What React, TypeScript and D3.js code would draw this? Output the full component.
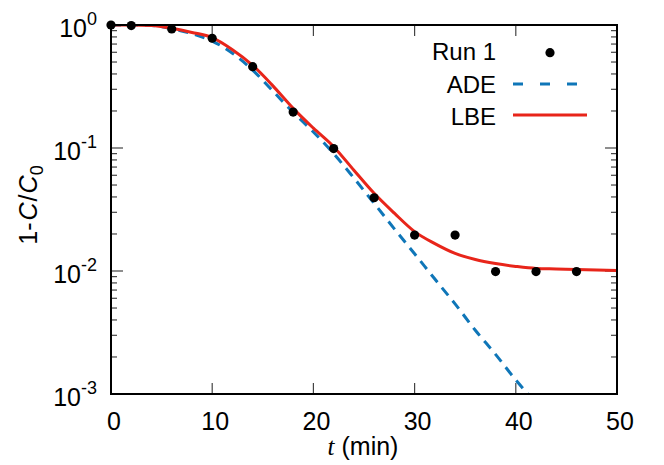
import React from "react";
import * as d3 from "d3";

const runT = [0, 2, 6, 10, 14, 18, 22, 26, 30, 34, 38, 42, 46];
const runV = [1.0, 0.99, 0.928, 0.78, 0.458, 0.196, 0.099, 0.0394, 0.0196, 0.0196, 0.0099, 0.0099, 0.0099];

const adeT = [0, 2, 4, 6, 8, 10, 12, 14, 16, 18, 20, 22, 24, 26, 28, 30, 32, 34, 36, 38, 40, 41.2];
const adeV = [1.0, 1.0, 0.99, 0.93, 0.85, 0.74, 0.59, 0.43, 0.29, 0.195, 0.135, 0.09, 0.057, 0.0355, 0.022, 0.0138, 0.0086, 0.0054, 0.0033, 0.0021, 0.0013, 0.001];

const lbeT = [0, 2, 4, 6, 8, 10, 12, 14, 16, 18, 20, 22, 24, 26, 28, 30, 32, 34, 36, 38, 40, 42, 44, 46, 48, 50];
const lbeV = [1.0, 1.0, 0.99, 0.94, 0.87, 0.79, 0.63, 0.47, 0.32, 0.21, 0.145, 0.1025, 0.066, 0.0428, 0.0295, 0.0209, 0.0167, 0.0139, 0.0124, 0.0115, 0.0109, 0.0105, 0.0104, 0.0103, 0.0102, 0.0101];

const xTicks = [0, 10, 20, 30, 40, 50];
const yExps = ["0", "-1", "-2", "-3"];
const legendLabels = ["Run 1", "ADE", "LBE"];

const W = 664, H = 465;
const L = 111, R = 617, T = 25, B = 394;
const FONT = "'Liberation Sans', Arial, Helvetica, sans-serif";
const SERIF = "'Liberation Serif', 'Times New Roman', serif";
const BLUE = "#0f76b8";
const RED = "#e8251a";
const FS = 25;
const SUP = 18;

function supWidth(s: string) {
  let w = 0;
  for (const ch of s) w += ch === "-" ? 0.333 : 0.556;
  return w * SUP;
}

export default function App() {
  const x = d3.scaleLinear().domain([0, 50]).range([L, R]);
  const y = d3.scaleLog().domain([1e-3, 1]).range([B, T]);

  const line = d3.line<[number, number]>()
    .x((d) => x(d[0]))
    .y((d) => y(d[1]))
    .curve(d3.curveMonotoneX);

  const adePath = line(adeT.map((t, i) => [t, adeV[i]] as [number, number])) || "";
  const lbePath = line(lbeT.map((t, i) => [t, lbeV[i]] as [number, number])) || "";

  const minorY: number[] = [];
  for (let e = -3; e < 0; e++) {
    for (let m = 2; m <= 9; m++) minorY.push(m * Math.pow(10, e));
  }

  return (
    <svg width={W} height={H} style={{ position: "absolute", left: 0, top: 0, background: "#fff" }}
      fontFamily={FONT}>
      <defs>
        <clipPath id="plotclip">
          <rect x={L} y={T} width={R - L} height={B - T} />
        </clipPath>
      </defs>
      <rect x={0} y={0} width={W} height={H} fill="#fff" />

      {/* ticks */}
      <g stroke="#444" strokeWidth={1.2}>
        {xTicks.map((t) => (
          <g key={"xt" + t}>
            <line x1={x(t)} x2={x(t)} y1={B} y2={B - 11} />
            <line x1={x(t)} x2={x(t)} y1={T} y2={T + 11} />
          </g>
        ))}
        {yExps.map((e) => (
          <g key={"yt" + e}>
            <line x1={L} x2={L + 12} y1={y(Math.pow(10, +e))} y2={y(Math.pow(10, +e))} />
            <line x1={R} x2={R - 12} y1={y(Math.pow(10, +e))} y2={y(Math.pow(10, +e))} />
          </g>
        ))}
        {minorY.map((v, i) => (
          <g key={"ym" + i}>
            <line x1={L} x2={L + 6} y1={y(v)} y2={y(v)} />
            <line x1={R} x2={R - 6} y1={y(v)} y2={y(v)} />
          </g>
        ))}
      </g>

      {/* curves */}
      <g clipPath="url(#plotclip)">
        <path d={adePath} fill="none" stroke={BLUE} strokeWidth={3} strokeDasharray="10,7" />
        <path d={lbePath} fill="none" stroke={RED} strokeWidth={3} />
      </g>
      {runT.map((t, i) => (
        <circle key={"p" + i} cx={x(t)} cy={y(runV[i])} r={4.6} fill="#000" />
      ))}

      {/* frame */}
      <rect x={L} y={T} width={R - L} height={B - T} fill="none" stroke="#000" strokeWidth={2} />

      {/* x tick labels */}
      {xTicks.map((t) => (
        <text key={"xl" + t} x={x(t) + 3} y={430} fontSize={FS} textAnchor="middle" fill="#000">{t}</text>
      ))}
      {/* y tick labels */}
      {yExps.map((e) => {
        const yy = y(Math.pow(10, +e));
        return (
          <g key={"yl" + e}>
            <text x={97 - supWidth(e)} y={yy + 11.5} fontSize={FS} textAnchor="end" fill="#000">10</text>
            <text x={97} y={yy} fontSize={SUP} textAnchor="end" fill="#000">{e}</text>
          </g>
        );
      })}

      {/* axis titles */}
      <text x={363} y={455} fontSize={FS} textAnchor="middle" fill="#000">
        <tspan fontFamily={SERIF} fontStyle="italic">t</tspan> (min)
      </text>
      <text transform="translate(37,205) rotate(-90)" fontSize={FS} textAnchor="middle" fill="#000">
        1-<tspan fontStyle="italic" dx={2}>C</tspan><tspan dx={1}>/</tspan><tspan fontStyle="italic" dx={1}>C</tspan><tspan fontSize={SUP} dy={6}>0</tspan>
      </text>

      {/* legend */}
      <text x={496} y={59.5} fontSize={24} textAnchor="end" fill="#000">{legendLabels[0]}</text>
      <circle cx={550} cy={52.7} r={4.6} fill="#000" />
      <text x={496} y={93} fontSize={24} textAnchor="end" fill="#000">{legendLabels[1]}</text>
      <line x1={513} x2={583} y1={84} y2={84} stroke={BLUE} strokeWidth={3} strokeDasharray="10,17" />
      <text x={496} y={125} fontSize={24} textAnchor="end" fill="#000">{legendLabels[2]}</text>
      <line x1={513} x2={587} y1={115} y2={115} stroke={RED} strokeWidth={3} />
    </svg>
  );
}
